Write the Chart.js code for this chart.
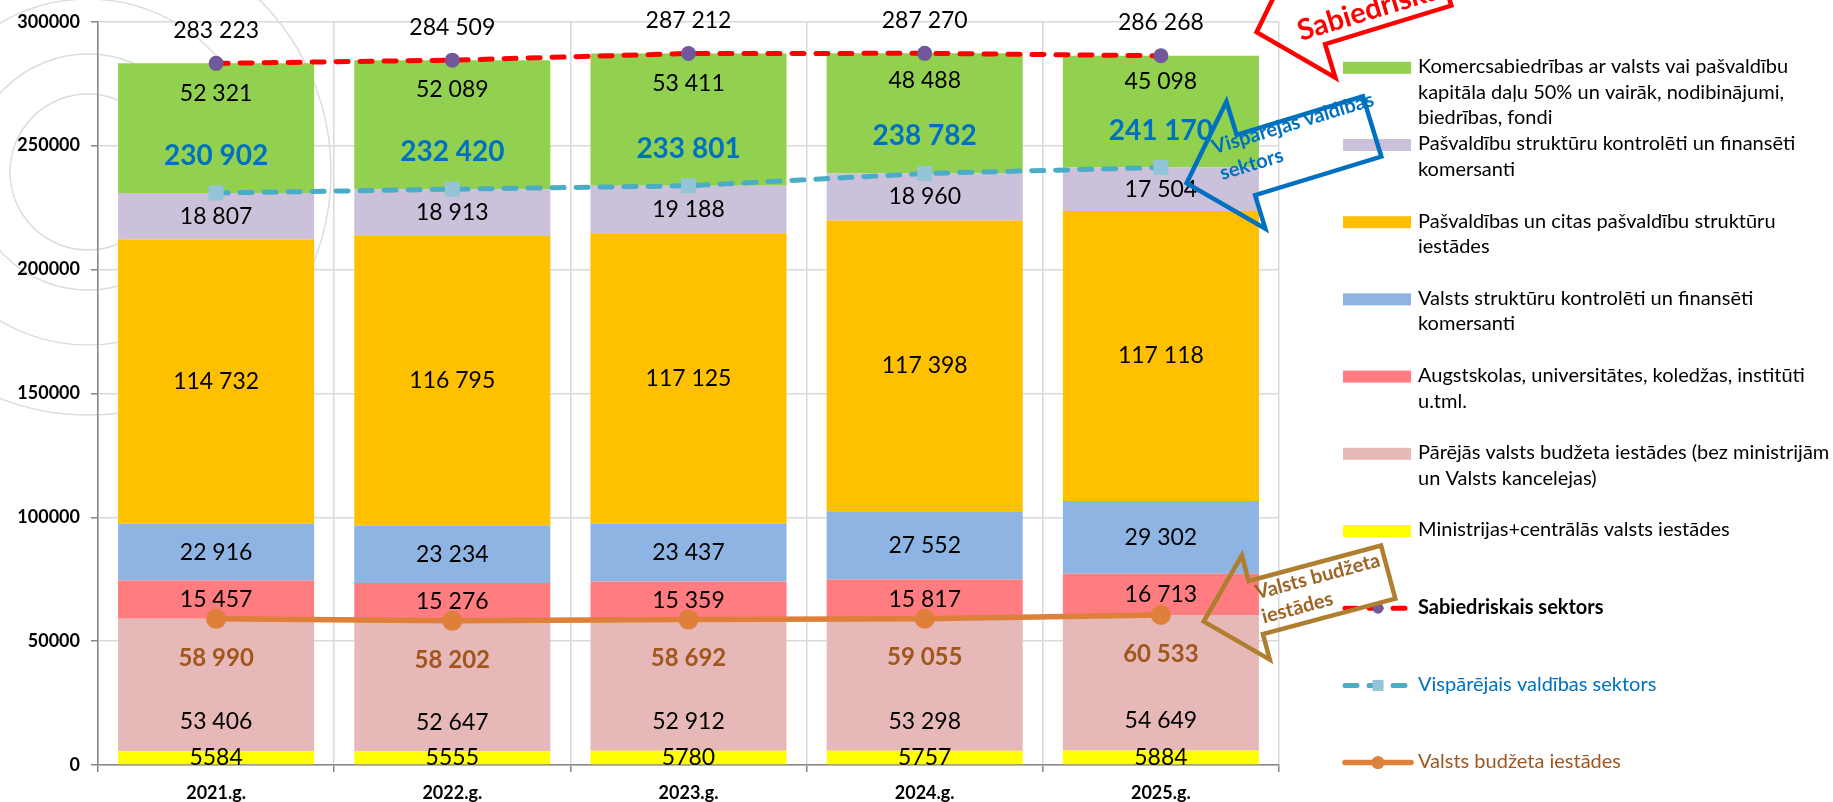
<!DOCTYPE html>
<html>
<head>
<meta charset="utf-8">
<script src="https://cdn.jsdelivr.net/npm/chart.js@4.4.1/dist/chart.umd.min.js"></script>
<style>
  html, body { margin: 0; padding: 0; background: #fff; }
  #wrap { position: relative; width: 1833px; height: 802px; }
</style>
</head>
<body>
<div id="wrap"><canvas id="chart"></canvas></div>
<script>
// Data (stack order bottom -> top)
const years = ['2021.g.', '2022.g.', '2023.g.', '2024.g.', '2025.g.'];
const ministrijas = [5584, 5555, 5780, 5757, 5884];
const parejas = [53406, 52647, 52912, 53298, 54649];
const augstskolas = [15457, 15276, 15359, 15817, 16713];
const valstsKomers = [22916, 23234, 23437, 27552, 29302];
const pasvaldibas = [114732, 116795, 117125, 117398, 117118];
const pasvKomers = [18807, 18913, 19188, 18960, 17504];
const komercsab = [52321, 52089, 53411, 48488, 45098];
// Totals (lines)
const sabiedriskais = [283223, 284509, 287212, 287270, 286268];
const visparejais = [230902, 232420, 233801, 238782, 241170];
const valstsBudzeta = [58990, 58202, 58692, 59055, 60533];
const yTicks = [0, 50000, 100000, 150000, 200000, 250000, 300000];

const FONT = 'Lato';

// 52321 -> "52 321", 5584 stays "5584"
const fmt = v => v >= 10000 ? String(v).replace(/\B(?=(\d{3})+(?!\d))/g, ' ') : String(v);

function bar(label, data, color, legendLines) {
    return {
        type: 'bar', label: label, data: data, backgroundColor: color,
        borderWidth: 0, order: 1, legendLines: legendLines
    };
}

const datasets = [
    bar('Ministrijas+centrālās valsts iestādes', ministrijas, '#FFFF00',
        ['Ministrijas+centrālās valsts iestādes']),
    bar('Pārējās valsts budžeta iestādes', parejas, '#E6B9B8',
        ['Pārējās valsts budžeta iestādes (bez ministrijām', 'un Valsts kancelejas)']),
    bar('Augstskolas', augstskolas, '#FF7C80',
        ['Augstskolas, universitātes, koledžas, institūti', 'u.tml.']),
    bar('Valsts struktūru kontrolēti', valstsKomers, '#8EB4E3',
        ['Valsts struktūru kontrolēti un finansēti', 'komersanti']),
    bar('Pašvaldības', pasvaldibas, '#FFC000',
        ['Pašvaldības un citas pašvaldību struktūru', 'iestādes']),
    bar('Pašvaldību struktūru kontrolēti', pasvKomers, '#CCC1DA',
        ['Pašvaldību struktūru kontrolēti un finansēti', 'komersanti']),
    bar('Komercsabiedrības', komercsab, '#92D050',
        ['Komercsabiedrības ar valsts vai pašvaldību', 'kapitāla daļu 50% un vairāk, nodibinājumi,', 'biedrības, fondi']),
    {
        type: 'line', label: 'Sabiedriskais sektors', data: sabiedriskais, stack: 'l1', order: 0,
        borderColor: '#FF0000', borderWidth: 5, borderDash: [12, 12], borderCapStyle: 'round',
        pointStyle: 'circle', pointRadius: 7.5, pointHoverRadius: 7.5, pointBorderWidth: 0,
        pointBackgroundColor: '#70589A', tension: 0,
        labelDy: -33, labelFont: '23px ' + FONT, labelColor: '#000000',
        legendLines: ['Sabiedriskais sektors'], legendBold: true, legendColor: '#000000', legendMarker: 5.5
    },
    {
        type: 'line', label: 'Vispārējais valdības sektors', data: visparejais, stack: 'l2', order: 0,
        borderColor: '#4BACC6', borderWidth: 5, borderDash: [12, 12], borderCapStyle: 'round',
        pointStyle: 'rect', pointRadius: 10.6, pointHoverRadius: 10.6, pointBorderWidth: 0,
        pointBackgroundColor: '#93C4D8', tension: 0,
        labelDy: -37, labelFont: 'bold 28px ' + FONT, labelColor: '#0070C0',
        legendLines: ['Vispārējais valdības sektors'], legendColor: '#0070C0', legendMarker: 5.5
    },
    {
        type: 'line', label: 'Valsts budžeta iestādes', data: valstsBudzeta, stack: 'l3', order: 0,
        borderColor: '#DE7F3A', borderWidth: 5.5, borderCapStyle: 'round',
        pointStyle: 'circle', pointRadius: 10, pointHoverRadius: 10, pointBorderWidth: 0,
        pointBackgroundColor: '#DE7F3A', tension: 0,
        labelDy: 39, labelFont: 'bold 24px ' + FONT, labelColor: '#A0561C',
        legendLines: ['Valsts budžeta iestādes'], legendColor: '#A0561C', legendMarker: 6.5
    }
];

// labels that sit off-centre in their segment (0 = bottom, 1 = top)
datasets[1].labelPos = 0.22;
datasets[6].labelPos = 0.77;

function callout(ctx, c) {
    ctx.save();
    ctx.translate(c.x, c.y);
    ctx.rotate(c.angle * Math.PI / 180);
    const w = c.w / 2, h = c.h / 2, b = c.base / 2;
    ctx.beginPath();
    ctx.moveTo(-w, -h);
    ctx.lineTo(w, -h);
    ctx.lineTo(w, h);
    ctx.lineTo(-w, h);
    ctx.lineTo(-w, b);
    ctx.lineTo(-w - c.depth, 0);
    ctx.lineTo(-w, -b);
    ctx.closePath();
    ctx.lineWidth = 4.5;
    ctx.lineJoin = 'miter';
    ctx.strokeStyle = c.color;
    ctx.stroke();
    ctx.fillStyle = c.textColor;
    ctx.font = c.font;
    ctx.textAlign = 'left';
    ctx.textBaseline = 'middle';
    c.lines.forEach((t, k) => ctx.fillText(t, c.tx, c.ty + k * c.lh));
    ctx.restore();
}

const decorPlugin = {
    id: 'decor',
    beforeDraw(chart) {
        // faint background rings
        const ctx = chart.ctx;
        ctx.save();
        ctx.strokeStyle = '#DCDCDC';
        ctx.lineWidth = 1.5;
        [78, 118, 173, 243].forEach(r => {
            ctx.beginPath();
            ctx.arc(88, 172, r, 0, Math.PI * 2);
            ctx.stroke();
        });
        ctx.restore();
    },
    afterDatasetsDraw(chart) {
        const ctx = chart.ctx;
        ctx.save();
        ctx.textAlign = 'center';
        ctx.textBaseline = 'middle';
        chart.data.datasets.forEach((ds, i) => {
            const meta = chart.getDatasetMeta(i);
            meta.data.forEach((el, j) => {
                const v = ds.data[j];
                if (ds.type === 'bar') {
                    const pos = ds.labelPos !== undefined ? ds.labelPos : 0.5;
                    ctx.font = '23px ' + FONT;
                    ctx.fillStyle = '#000000';
                    ctx.fillText(fmt(v), el.x, el.base - (el.base - el.y) * pos);
                } else {
                    ctx.font = ds.labelFont;
                    ctx.fillStyle = ds.labelColor;
                    ctx.fillText(fmt(v), el.x, el.y + ds.labelDy);
                }
            });
        });
        ctx.restore();
    },
    afterDraw(chart) {
        const ctx = chart.ctx;
        const area = chart.chartArea;
        // legend
        const legendOrder = [6, 5, 4, 3, 2, 1, 0, 7, 8, 9];
        const lx = area.right + 64, ly = area.top + 46, step = 77.2;
        ctx.save();
        legendOrder.forEach((di, k) => {
            const ds = chart.data.datasets[di];
            const y = ly + k * step;
            if (ds.type === 'bar') {
                ctx.fillStyle = ds.backgroundColor;
                ctx.fillRect(lx, y - 6, 68, 12);
            } else {
                ctx.save();
                ctx.strokeStyle = ds.borderColor;
                ctx.lineWidth = ds.borderWidth;
                ctx.lineCap = 'round';
                ctx.setLineDash(ds.borderDash || []);
                ctx.beginPath();
                ctx.moveTo(lx + 2, y);
                ctx.lineTo(lx + 68, y);
                ctx.stroke();
                ctx.restore();
                const m = ds.legendMarker, cx = lx + 35;
                ctx.fillStyle = ds.pointBackgroundColor;
                if (ds.pointStyle === 'rect') {
                    ctx.fillRect(cx - m, y - m, 2 * m, 2 * m);
                } else {
                    ctx.beginPath();
                    ctx.arc(cx, y, m, 0, Math.PI * 2);
                    ctx.fill();
                }
            }
            ctx.font = (ds.legendBold ? 'bold ' : '') + '20px ' + FONT;
            ctx.fillStyle = ds.legendColor || '#000000';
            ctx.textAlign = 'left';
            ctx.textBaseline = 'middle';
            ds.legendLines.forEach((t, n) => ctx.fillText(t, lx + 75, y - 1 + n * 25.5));
        });
        ctx.restore();

        // arrow callouts
        callout(ctx, {
            x: area.right + 100, y: area.top - 27, angle: -17, w: 132, h: 63, base: 133, depth: 62,
            color: '#FF0000', textColor: '#FF0000', font: 'bold 29px ' + FONT,
            lines: ['Sabiedriskais sektors'], tx: -88, ty: 12, lh: 27
        });
        callout(ctx, {
            x: area.right + 30, y: area.top + 124, angle: -17, w: 132, h: 63, base: 133, depth: 62,
            color: '#0070C0', textColor: '#0070C0', font: 'bold 20px ' + FONT,
            lines: ['Vispārējās valdības', 'sektors'], tx: -93, ty: -26, lh: 27
        });
        callout(ctx, {
            x: area.right + 43, y: area.top + 568, angle: -15, w: 137, h: 55, base: 108, depth: 54,
            color: '#AF7E2E', textColor: '#9D6424', font: 'bold 20px ' + FONT,
            lines: ['Valsts budžeta', 'iestādes'], tx: -65, ty: -14, lh: 25
        });
    }
};

new Chart(document.getElementById('chart'), {
    data: { labels: years, datasets: datasets },
    options: {
        responsive: true,
        maintainAspectRatio: false,
        animation: false,
        layout: { padding: { top: 17, right: 554, bottom: 0, left: 0 } },
        datasets: { bar: { barPercentage: 0.83, categoryPercentage: 1 } },
        plugins: {
            legend: { display: false },
            tooltip: { enabled: false }
        },
        scales: {
            x: {
                stacked: true,
                grid: { color: '#D9D9D9', lineWidth: 1.5, tickLength: 7, tickColor: '#868686', offset: true },
                border: { color: '#868686', width: 1.5 },
                ticks: { font: { family: FONT, size: 18, weight: 'bold' }, color: '#000000', padding: 10 },
                afterFit: s => { s.height = 37; }
            },
            y: {
                stacked: true,
                min: 0,
                max: 300000,
                grid: { color: '#D9D9D9', lineWidth: 1.5, tickLength: 7, tickColor: '#868686' },
                border: { color: '#868686', width: 1.5 },
                ticks: {
                    font: { family: FONT, size: 18, weight: 'bold' }, color: '#000000', padding: 11,
                    callback: v => String(v)
                },
                afterBuildTicks: s => { s.ticks = yTicks.map(v => ({ value: v })); },
                afterFit: s => { s.width = 98; }
            }
        }
    },
    plugins: [decorPlugin]
});
</script>
</body>
</html>
